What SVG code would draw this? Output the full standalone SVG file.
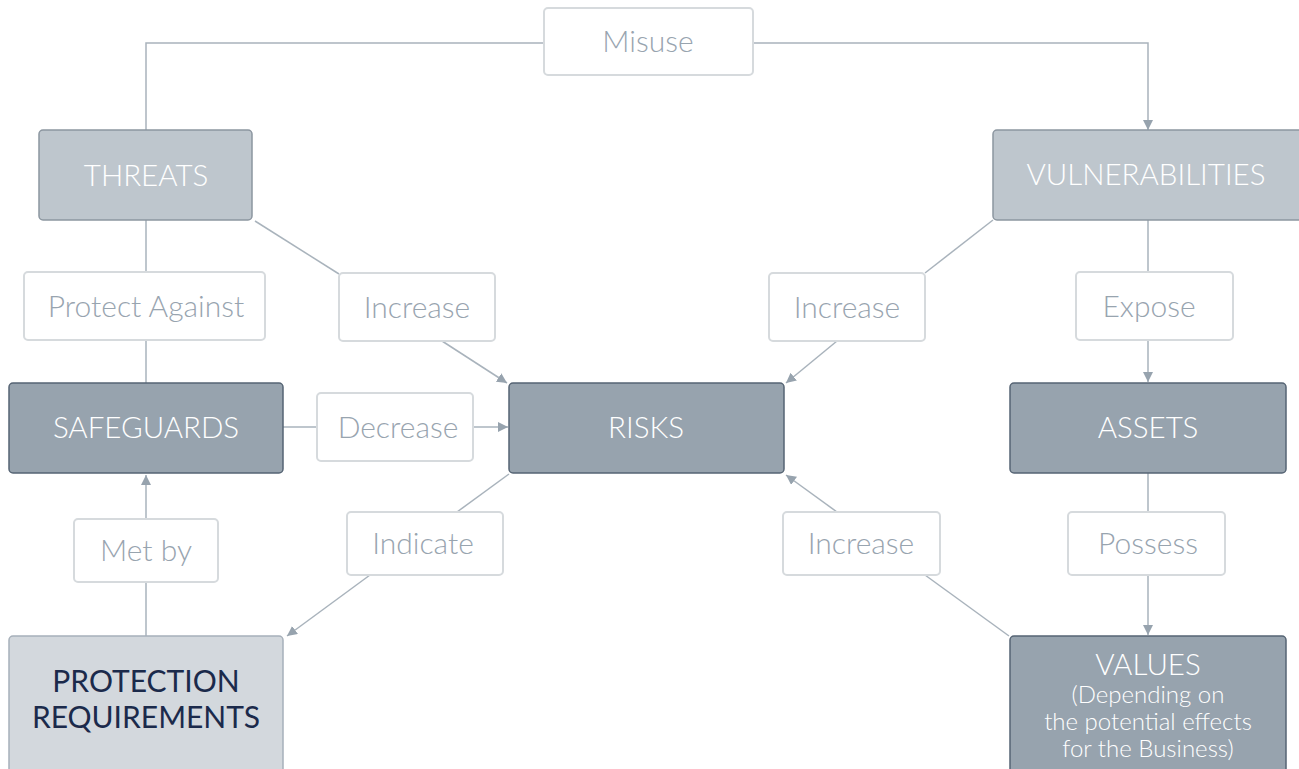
<svg xmlns="http://www.w3.org/2000/svg" width="1299" height="769" viewBox="0 0 1299 769">
<style>
.lbl rect{fill:#fff;stroke:#d6dadd;stroke-width:2}
.lbl text{fill:#98a4af;font-family:Lato,"Noto Sans",sans-serif;font-weight:300;font-size:30px;text-anchor:middle}
.n1 rect{fill:#bec6cd;stroke:#8c96a0;stroke-width:1.5}
.n2 rect{fill:#97a3ae;stroke:#566474;stroke-width:1.5}
.n3 rect{fill:#d3d8dd;stroke:#a7b0ba;stroke-width:1.5}
.node text{fill:#fff;font-family:Lato,"Noto Sans",sans-serif;font-weight:300;font-size:29.5px;text-anchor:middle}
.node text.n3t{fill:#1b2a4b;font-weight:400;font-size:30px}
.node text.sub{font-size:24px}
#connectors path{fill:none;stroke:#a9b3bc;stroke-width:1.5}
</style>
<defs>
<marker id="ah" viewBox="0 0 10 10" refX="10" refY="5" markerWidth="10" markerHeight="10" markerUnits="userSpaceOnUse" orient="auto">
<path d="M0,0 L10,5 L0,10 z" fill="#97a3ae"/>
</marker>
</defs>
<g id="connectors">
<path d="M544,43 H146 V130"/>
<path d="M752,43 H1148 V130" marker-end="url(#ah)"/>
<path d="M255,221 L339,274"/>
<path d="M442,341 L507,383" marker-end="url(#ah)"/>
<path d="M146,220 V272"/>
<path d="M146,340 V383"/>
<path d="M283,427 H317"/>
<path d="M473,427 H508" marker-end="url(#ah)"/>
<path d="M993,220 L925,273"/>
<path d="M837,341 L786,383" marker-end="url(#ah)"/>
<path d="M1148,220 V272"/>
<path d="M1148,340 V382" marker-end="url(#ah)"/>
<path d="M1148,473 V512"/>
<path d="M1148,575 V635" marker-end="url(#ah)"/>
<path d="M1009,636 L925,575"/>
<path d="M837,512 L786,475" marker-end="url(#ah)"/>
<path d="M509,474 L457,512"/>
<path d="M370,575 L287,636" marker-end="url(#ah)"/>
<path d="M146,636 V582"/>
<path d="M146,519 V475" marker-end="url(#ah)"/>
</g>
<g id="misuse" class="lbl"><rect x="544" y="8" width="209" height="67" rx="4"/><text x="648" y="52">Misuse</text></g>
<g id="threats" class="node n1"><rect x="39" y="130" width="213" height="90" rx="4"/><text x="146" y="186">THREATS</text></g>
<g id="vulnerabilities" class="node n1"><rect x="993" y="130" width="310" height="90" rx="4"/><text x="1146" y="185">VULNERABILITIES</text></g>
<g id="protect-against" class="lbl"><rect x="24" y="272" width="241" height="68" rx="4"/><text x="146" y="317">Protect Against</text></g>
<g id="increase-1" class="lbl"><rect x="339" y="273" width="156" height="68" rx="4"/><text x="417" y="318">Increase</text></g>
<g id="increase-2" class="lbl"><rect x="769" y="273" width="156" height="68" rx="4"/><text x="847" y="318">Increase</text></g>
<g id="expose" class="lbl"><rect x="1076" y="272" width="157" height="68" rx="4"/><text x="1149" y="317">Expose</text></g>
<g id="safeguards" class="node n2"><rect x="9" y="383" width="274" height="90" rx="4"/><text x="146" y="438">SAFEGUARDS</text></g>
<g id="decrease" class="lbl"><rect x="317" y="393" width="156" height="68" rx="4"/><text x="398" y="438">Decrease</text></g>
<g id="risks" class="node n2"><rect x="509" y="383" width="275" height="90" rx="4"/><text x="646" y="438">RISKS</text></g>
<g id="assets" class="node n2"><rect x="1010" y="383" width="276" height="90" rx="4"/><text x="1148" y="438">ASSETS</text></g>
<g id="met-by" class="lbl"><rect x="74" y="519" width="144" height="63" rx="4"/><text x="146" y="561">Met by</text></g>
<g id="indicate" class="lbl"><rect x="347" y="512" width="156" height="63" rx="4"/><text x="423" y="554">Indicate</text></g>
<g id="increase-3" class="lbl"><rect x="783" y="512" width="157" height="63" rx="4"/><text x="861" y="554">Increase</text></g>
<g id="possess" class="lbl"><rect x="1068" y="512" width="157" height="63" rx="4"/><text x="1148" y="554">Possess</text></g>
<g id="protection-requirements" class="node n3"><rect x="9" y="636" width="274" height="140" rx="4"/><text class="n3t" x="146" y="692">PROTECTION</text><text class="n3t" x="146" y="728">REQUIREMENTS</text></g>
<g id="values" class="node n2"><rect x="1010" y="636" width="276" height="140" rx="4"/><text x="1148" y="675">VALUES</text><text class="sub" x="1148" y="703">(Depending on</text><text class="sub" x="1148" y="730">the potential effects</text><text class="sub" x="1148" y="757">for the Business)</text></g>
</svg>
